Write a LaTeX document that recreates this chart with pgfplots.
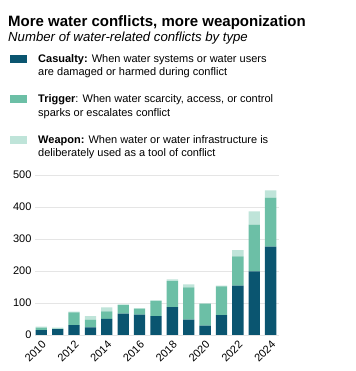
\documentclass[border=0pt]{standalone}
\usepackage{pgfplots}
\pgfplotsset{compat=1.18}
\usepackage{fontspec}
\setmainfont{Liberation Sans}
\definecolor{cas}{HTML}{0A5570}
\definecolor{trig}{HTML}{6CBFA6}
\definecolor{weap}{HTML}{BFE4D9}
\begin{document}
\begin{tikzpicture}
\path[use as bounding box] (0pt,0pt) rectangle (355pt,371pt);
\node[anchor=base west,inner sep=0] at (8pt,344pt) {\fontsize{15}{18}\selectfont\bfseries More water conflicts, more weaponization};
\node[anchor=base west,inner sep=0] at (8pt,329pt) {\fontsize{13.2}{15}\selectfont\itshape Number of water-related conflicts by type};
\fill[cas] (10pt,308pt) rectangle (27pt,316pt);
\fill[trig] (10pt,268pt) rectangle (27pt,276pt);
\fill[weap] (10pt,227pt) rectangle (27pt,235pt);
\begin{scope}[every node/.style={anchor=base west,inner sep=0,font=\fontsize{11}{13}\selectfont}]
\node at (38pt,308pt) {\textbf{Casualty:} When water systems or water users};
\node at (38pt,295pt) {are damaged or harmed during conflict};
\node at (38pt,268pt) {\textbf{Trigger}: When water scarcity, access, or control};
\node at (38pt,254pt) {sparks or escalates conflict};
\node at (38pt,227pt) {\textbf{Weapon:} When water or water infrastructure is};
\node at (38pt,214pt) {deliberately used as a tool of conflict};
\end{scope}
\begin{axis}[
  at={(35pt,36pt)}, anchor=south west,
  scale only axis, width=244pt, height=160pt,
  ybar stacked, bar width=0.69,
  xmin=2009.615, xmax=2024.51, ymin=0, ymax=500,
  xtick={2010,2012,...,2024}, ytick={0,100,...,500},
  xticklabel style={rotate=45, anchor=north east, /pgf/number format/1000 sep=, font=\fontsize{11}{13}\selectfont},
  yticklabel style={font=\fontsize{11}{13}\selectfont},
  /pgf/number format/assume math mode=true,
  major tick length=0pt,
  axis line style={draw=none},
  ymajorgrids, grid style={gray!20, line width=0.6pt},
]
\addplot[fill=cas, draw=none] coordinates {(2010,15) (2011,18) (2012,31) (2013,24) (2014,50) (2015,67) (2016,64) (2017,59) (2018,87) (2019,48) (2020,29) (2021,62) (2022,154) (2023,199) (2024,276)};
\addplot[fill=trig, draw=none] coordinates {(2010,8) (2011,2) (2012,40) (2013,24) (2014,24) (2015,26) (2016,18) (2017,48) (2018,81) (2019,101) (2020,69) (2021,90) (2022,92) (2023,146) (2024,153)};
\addplot[fill=weap, draw=none] coordinates {(2010,3) (2011,3) (2012,2) (2013,11) (2014,12) (2015,3) (2016,2) (2017,1) (2018,6) (2019,9) (2020,1) (2021,2) (2022,19) (2023,41) (2024,23)};
\end{axis}
\end{tikzpicture}
\end{document}
